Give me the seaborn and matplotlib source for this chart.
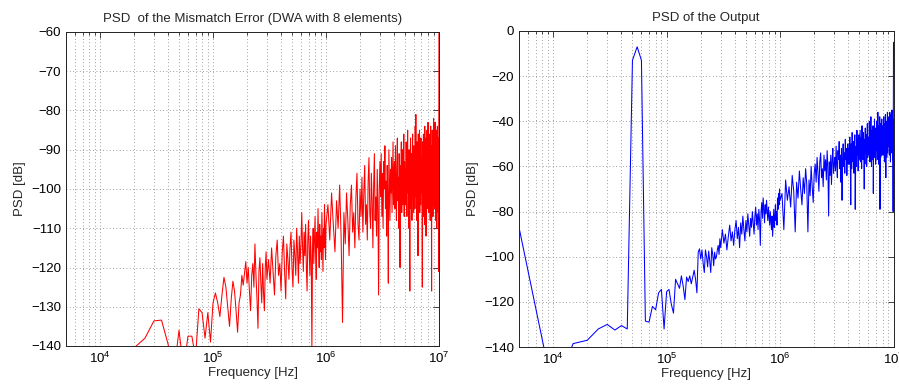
import numpy as np
import pandas as pd
import matplotlib
matplotlib.use("Agg")
import matplotlib.pyplot as plt
import seaborn as sns
from matplotlib.ticker import LogLocator, MultipleLocator, NullFormatter, LogFormatterMathtext

# ---------------------------------------------------------------------------
# Spectra (dB).  Low band: every 5 kHz FFT bin from 5 kHz to 300 kHz,
# mid band: 310 kHz .. 1 MHz every 10 kHz, high band: 1.04 MHz .. 10 MHz every 40 kHz.
# ---------------------------------------------------------------------------
freq_lo = np.arange(1, 61) * 5e3
freq_mid = np.arange(310e3, 1000e3 + 1, 10e3)
freq_hi = np.arange(1.04e6, 1e7 + 1, 40e3)

# Mismatch error of the DWA element selection (8 elements)
err_lo = [
    -165, -158, -150, -140.5, -138, -133.6, -133.4, -139.5, -147, -136,
    -146, -137.5, -137.5, -143, -130.5, -131.5, -138, -131.5, -139, -129,
    -126.5, -129, -132.5, -127, -122.5, -125, -130, -135, -128, -123.5,
    -126, -131, -136.5, -129, -127, -122, -124.5, -121.5, -118.5, -124,
    -120, -126, -131, -122, -119, -125, -114, -122, -128, -135.5,
    -121, -117.5, -124, -129, -119, -126.5, -131, -120, -116, -123,
]
err_mid = [
    -118, -124, -115, -121, -127, -117, -113, -122, -119, -126,
    -116, -112, -121, -128, -114, -118, -123, -115, -111, -120,
    -125, -113, -117, -122, -110, -116, -124, -112, -119, -114,
    -106, -115, -121, -111, -117, -109, -120, -126, -113, -108,
    -116, -122, -112, -118, -141, -115, -110, -119, -113, -107,
    -117, -123, -111, -115, -105, -114, -120, -109, -116, -112,
    -118, -106, -113, -121, -110, -115, -104, -112, -118, -109,
]
err_hi = [
    -104, -113, -101, -109, -116, -103, -110, -99, -112, -134, -106, -114, -101, -108, -117, -104, -99, -111, -106, -115, -102, -96, -109, -113, -100,
    -107, -97, -111, -101, -94, -109, -104, -113, -98, -92, -106, -110, -96, -103, -115, -99, -91, -108, -102, -112, -95, -105, -127, -100, -93,
    -102, -91, -107, -96, -110, -93, -100, -89, -105, -98, -112, -94, -103, -124, -90, -99, -108, -95, -101, -92, -106, -97, -88, -104, -96,
    -93, -105, -89, -100, -108, -95, -87, -103, -97, -110, -91, -99, -120, -94, -102, -88, -106, -96, -90, -104, -98, -86, -107, -93, -101,
    -95, -104, -88, -99, -107, -92, -85, -101, -96, -110, -90, -103, -126, -94, -87, -105, -98, -91, -108, -93, -86, -100, -97, -106, -89,
    -99, -90, -105, -84, -97, -81, -102, -93, -108, -88, -100, -95, -117, -86, -103, -92, -98, -85, -106, -91, -96, -104, -87, -101, -94,
    -92, -103, -125, -88, -99, -107, -86, -95, -101, -90, -109, -84, -97, -104, -89, -93, -112, -87, -100, -96, -85, -105, -91, -98, -83,
    -102, -90, -97, -106, -86, -94, -100, -88, -108, -92, -84, -99, -95, -103, -126, -89, -96, -85, -101, -93, -107, -87, -98, -82, -104,
    -91, -99, -86, -105, -94, -83, -100, -89, -108, -96, -85, -102, -92, -110, -88, -97, -84, -103, -93, -87, -106, -90, -121, -85, -50,
]

# Modulator output spectrum
out_lo = [
    -87, -160, -138.5, -137, -132, -130, -132.5, -130.5, -132, -13,
    -7, -13, -128.5, -129, -122, -123.5, -116, -114.5, -132, -115.5,
    -114.5, -121, -125, -110, -112, -114, -108.5, -113, -119, -109,
    -111, -108.5, -112, -109, -106, -110, -116, -98, -96.5, -101,
    -97, -103, -107, -97, -100, -104.5, -97.5, -102, -107, -96,
    -99, -104, -98, -101, -100, -97, -95, -99, -92, -96,
]
out_mid = [
    -88, -94, -90, -97, -91, -86, -93, -89, -95, -88,
    -84, -92, -87, -96, -85, -90, -82, -88, -93, -84,
    -89, -81, -86, -91, -83, -87, -80, -85, -90, -82,
    -78, -86, -81, -88, -79, -84, -95, -80, -76, -83,
    -74, -79, -85, -77, -81, -75, -80, -84, -78, -82,
    -86, -80, -84, -88, -82, -91, -85, -79, -87, -83,
    -77, -84, -80, -86, -74, -79, -72, -77, -70, -75,
]
out_hi = [
    -72, -88, -66, -75, -69, -78, -64, -71, -89, -67, -74, -62, -70, -77, -65, -72, -61, -68, -89, -66, -73, -60, -69, -76, -63,
    -59, -67, -56, -63, -71, -58, -54, -65, -61, -69, -55, -62, -57, -66, -53, -60, -82, -58, -64, -55, -68, -57, -52, -63, -59,
    -56, -62, -51, -59, -65, -53, -57, -49, -61, -55, -67, -52, -75, -58, -50, -60, -54, -63, -48, -57, -52, -64, -55, -50, -59,
    -52, -59, -47, -56, -77, -50, -61, -45, -54, -58, -49, -63, -53, -46, -79, -57, -51, -60, -44, -55, -48, -62, -52, -46, -57,
    -50, -44, -58, -53, -47, -61, -42, -55, -49, -57, -45, -52, -70, -48, -59, -43, -54, -50, -46, -60, -51, -41, -56, -48, -53,
    -47, -55, -40, -52, -58, -45, -49, -38, -54, -60, -44, -51, -47, -57, -42, -72, -50, -46, -53, -39, -56, -48, -43, -59, -50,
    -46, -53, -40, -49, -57, -44, -36, -51, -47, -59, -42, -48, -54, -38, -79, -50, -45, -56, -41, -52, -46, -39, -55, -48, -43,
    -50, -42, -55, -46, -38, -52, -48, -58, -41, -45, -53, -37, -49, -65, -44, -51, -40, -56, -47, -43, -36, -54, -48, -42, -50,
    -44, -51, -38, -47, -55, -41, -36, -49, -45, -58, -40, -52, -37, -46, -54, -42, -35, -50, -44, -57, -39, -48, -80, -43, -5,
]

titles = ["PSD  of the Mismatch Error (DWA with 8 elements)", "PSD of the Output"]
x_label = "Frequency [Hz]"
y_label = "PSD [dB]"


def spectrum_frame(lo, mid, hi):
    assert len(lo) == len(freq_lo) and len(mid) == len(freq_mid) and len(hi) == len(freq_hi)
    return pd.DataFrame({
        "freq": np.concatenate([freq_lo, freq_mid, freq_hi]),
        "psd": np.concatenate([lo, mid, hi]),
    })


err_df = spectrum_frame(err_lo, err_mid, err_hi)
out_df = spectrum_frame(out_lo, out_mid, out_hi)

sns.set_theme(style="white")
plt.rcParams["font.family"] = ["Liberation Sans", "DejaVu Sans"]
plt.rcParams["axes.unicode_minus"] = True
plt.rcParams["mathtext.fontset"] = "custom"
plt.rcParams["mathtext.rm"] = "Liberation Sans"
plt.rcParams["mathtext.it"] = "Liberation Sans:italic"
FS = 9.5

W, H = 899, 385
fig = plt.figure(figsize=(W / 100, H / 100), dpi=100)
ax1 = fig.add_axes([66 / W, 1 - 346 / H, (439 - 66) / W, (346 - 32) / H])
ax2 = fig.add_axes([519 / W, 1 - 347 / H, (893.5 - 519) / W, (347 - 31) / H])

sns.lineplot(data=err_df, x="freq", y="psd", ax=ax1, color="#ff0000",
             linewidth=0.75, estimator=None, sort=False)
sns.lineplot(data=out_df, x="freq", y="psd", ax=ax2, color="#0000ff",
             linewidth=0.75, estimator=None, sort=False)

for ax, title, ylim, ystep in [(ax1, titles[0], (-140, -60), 10),
                               (ax2, titles[1], (-140, 0), 20)]:
    ax.set_xscale("log")
    ax.set_xlim(5e3, 1e7)
    ax.set_ylim(*ylim)
    ax.xaxis.set_major_locator(LogLocator(base=10, numticks=10))
    ax.xaxis.set_major_formatter(LogFormatterMathtext())
    ax.xaxis.set_minor_locator(LogLocator(base=10, subs=np.arange(2, 10), numticks=20))
    ax.xaxis.set_minor_formatter(NullFormatter())
    ax.yaxis.set_major_locator(MultipleLocator(ystep))
    ax.grid(True, which="major", axis="both", color="#808080",
            linestyle=(0, (1, 3)), linewidth=0.6)
    ax.grid(True, which="minor", axis="x", color="#808080",
            linestyle=(0, (1, 3)), linewidth=0.6)
    ax.tick_params(which="both", direction="in", top=True, right=True,
                   colors="black", width=0.5)
    ax.tick_params(which="major", length=4, labelsize=FS, pad=3.5)
    ax.tick_params(which="minor", length=2)
    for sp in ax.spines.values():
        sp.set_color("#222222")
        sp.set_linewidth(0.7)
    ax.set_title(title, fontsize=FS, pad=7)
    ax.set_xlabel(x_label, fontsize=FS, labelpad=1)
    ax.set_ylabel(y_label, fontsize=FS, labelpad=4)

fig.savefig("out.png", dpi=100)
